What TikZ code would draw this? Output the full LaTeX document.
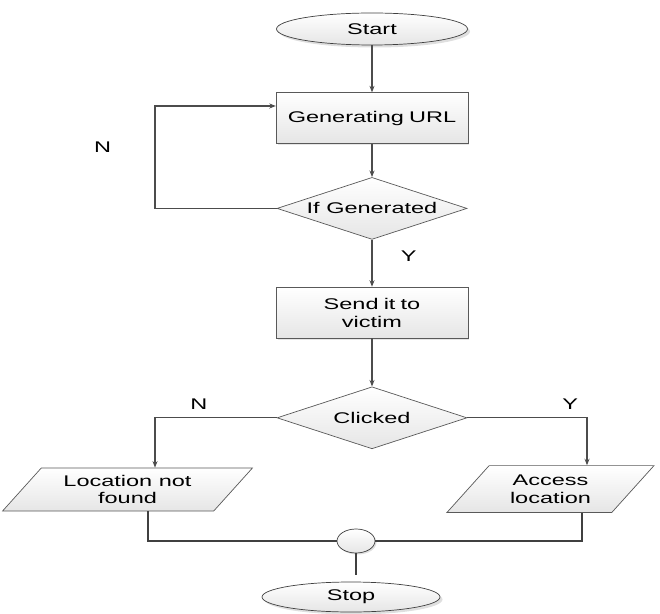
\documentclass[tikz,border=0pt]{standalone}
\usepackage{fontspec}
\setmainfont{Liberation Sans}[FakeStretch=1.52]
\usetikzlibrary{shapes.geometric, arrows.meta, positioning, shadows}

\begin{document}
\begin{tikzpicture}[
    node distance=0.94cm,
    terminal/.style={ellipse, draw=black!75, top color=white, bottom color=black!10, minimum width=3.82cm, minimum height=0.64cm, inner sep=1pt, font=\fontsize{8.8}{10.2}\selectfont, drop shadow={opacity=0.25, shadow xshift=0.05cm, shadow yshift=-0.05cm}},
    block/.style={rectangle, draw=black!65, top color=white, bottom color=black!10, text width=3.6cm, align=center, minimum width=3.8cm, minimum height=1.02cm, font=\fontsize{8.8}{10.2}\selectfont, drop shadow={opacity=0.2, shadow xshift=0.03cm, shadow yshift=-0.03cm}},
    decision/.style={diamond, draw=black!65, top color=white, bottom color=black!10, minimum width=3.8cm, minimum height=1.24cm, aspect=3, inner sep=0pt, font=\fontsize{8.8}{10.2}\selectfont},
    io/.style={trapezium, trapezium left angle=48, trapezium right angle=132, draw=black!65, top color=white, bottom color=black!10, align=center, inner sep=1pt, font=\fontsize{8.8}{10.2}\selectfont},
    junction/.style={ellipse, draw=black!75, top color=white, bottom color=black!10, minimum width=0.76cm, minimum height=0.48cm, inner sep=0pt, drop shadow={opacity=0.25, shadow xshift=0.03cm, shadow yshift=-0.03cm}},
    line/.style={draw=black!70, line width=0.6pt, -{Stealth[length=1.3mm, width=1mm]}},
    link/.style={draw=black!75, line width=0.6pt},
    lbl/.style={font=\fontsize{8.8}{10.2}\selectfont}
]
    \useasboundingbox (0,0) rectangle (13.2,-12.28);

    % Main column
    \node [terminal] (start) at (7.44,-0.58) {Start};
    \node [block, below=0.94cm of start] (genurl) {Generating URL};
    \node [decision, below=0.66cm of genurl] (ifgen) {If Generated};
    \node [block, below=0.94cm of ifgen] (send) {Send it to\\victim};
    \node [decision, below=0.96cm of send] (clicked) {Clicked};

    % Outcomes
    \node [io, minimum width=4.5cm, minimum height=0.86cm] (notfound) at (2.55,-9.79) {Location not\\found};
    \node [io, minimum width=4.14cm, minimum height=0.92cm] (access) at (11.01,-9.78) {Access\\location};

    % Merge and end
    \node [junction] (merge) at (7.12,-10.82) {};
    \node [terminal, minimum width=3.56cm, minimum height=0.6cm] (stop) at (7.02,-11.94) {Stop};

    \coordinate (retry) at (3.1,-2.12);
    \coordinate (stopin) at (merge.south |- stop.north);

    % Connections
    \path [line] (start.south) -- (genurl.north);
    \path [line] (genurl.south) -- (ifgen.north);
    \path [line] (ifgen.west) -| node[lbl, pos=0.8, left=0.75cm] {N} (retry) -- (retry -| genurl.west);
    \path [line] (ifgen.south) -- node[lbl, pos=0.35, right=0.45cm] {Y} (send.north);
    \path [line] (send.south) -- (clicked.north);

    \path [line] (clicked.west) -| node[lbl, pos=0.32, above=1pt] {N} ([xshift=0.55cm]notfound.north);
    \path [line] (clicked.east) -| node[lbl, pos=0.43, above=1pt] {Y} ([xshift=0.73cm]access.north);

    \path [link] ([xshift=0.41cm]notfound.south) |- (merge.west);
    \path [link] ([xshift=0.63cm]access.south) |- (merge.east);
    \path [link] (merge.south) -- ([yshift=0.14cm]stopin);

\end{tikzpicture}
\end{document}
